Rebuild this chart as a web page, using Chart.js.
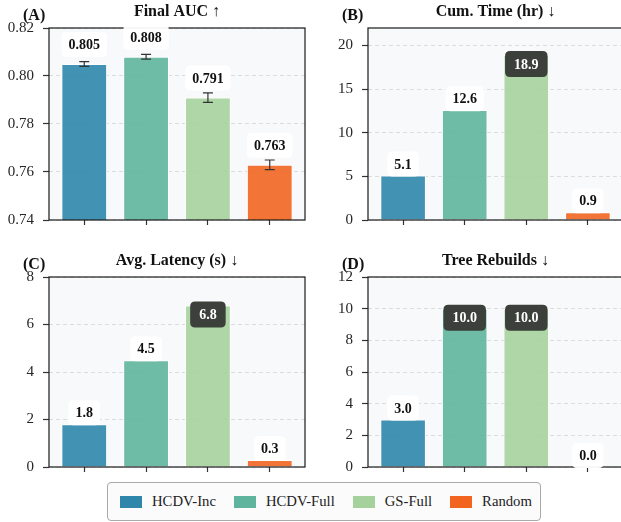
<!DOCTYPE html>
<html>
<head>
<meta charset="utf-8">
<script src="https://cdn.jsdelivr.net/npm/chart.js@4.4.1/dist/chart.umd.min.js"></script>
<style>
  html, body { margin: 0; padding: 0; background: #fff; }
  #fig { position: relative; width: 621px; height: 522px; overflow: hidden; background: #fff;
         font-family: 'Liberation Serif', 'Times New Roman', serif; }
  #fig canvas { position: absolute; }
  #legend { position: absolute; left: 107px; top: 482px; height: 39px; box-sizing: border-box;
            border: 1px solid #a9a9a9; border-radius: 4px; background: #fbfbfb;
            display: flex; align-items: center; padding: 0 8px 0 12px; font-size: 14.7px; color: #222; }
  .item { display: flex; align-items: center; margin-right: 18px; }
  .item:last-child { margin-right: 0; }
  .sw { width: 22px; height: 12px; margin-right: 10px; }
</style>
</head>
<body>
<div id="fig">
  <canvas id="pA" width="310" height="240" style="left:0;top:0"></canvas>
  <canvas id="pB" width="318" height="240" style="left:310px;top:0"></canvas>
  <canvas id="pC" width="310" height="230" style="left:0;top:250px"></canvas>
  <canvas id="pD" width="318" height="230" style="left:310px;top:250px"></canvas>
  <div id="legend"></div>
</div>
<script>
// Methods compared
const methods = ['HCDV-Inc', 'HCDV-Full', 'GS-Full', 'Random'];
const methodColors = ['#2E86AB', '#5EB49C', '#A5D29C', '#F16520'];

// Metric values per method
const finalAUC     = [0.805, 0.808, 0.791, 0.763];
const finalAUCErr  = [0.001, 0.001, 0.002, 0.002];
const cumTimeHr    = [5.1, 12.6, 18.9, 0.9];
const avgLatencyS  = [1.8, 4.5, 6.8, 0.3];
const treeRebuilds = [3.0, 10.0, 10.0, 0.0];

// Y-axis tick labels per panel
const aucTicks     = [0.74, 0.76, 0.78, 0.80, 0.82];
const timeTicks    = [0, 5, 10, 15, 20];
const latencyTicks = [0, 2, 4, 6, 8];
const rebuildTicks = [0, 2, 4, 6, 8, 10, 12];

const FONT = "'Liberation Serif', 'Times New Roman', serif";

function withAlpha(hex, a) {
  const n = parseInt(hex.slice(1), 16);
  return `rgba(${(n >> 16) & 255},${(n >> 8) & 255},${n & 255},${a})`;
}

function roundBox(ctx, x, y, w, h, r) {
  ctx.beginPath();
  ctx.moveTo(x + r, y);
  ctx.lineTo(x + w - r, y);
  ctx.quadraticCurveTo(x + w, y, x + w, y + r);
  ctx.lineTo(x + w, y + h - r);
  ctx.quadraticCurveTo(x + w, y + h, x + w - r, y + h);
  ctx.lineTo(x + r, y + h);
  ctx.quadraticCurveTo(x, y + h, x, y + h - r);
  ctx.lineTo(x, y + r);
  ctx.quadraticCurveTo(x, y, x + r, y);
  ctx.closePath();
}

// Panel background, frame, error bars, value badges, titles
const panelDecor = {
  id: 'panelDecor',
  beforeDraw(chart) {
    const { ctx, chartArea: a } = chart;
    ctx.save();
    ctx.fillStyle = '#f8f9fa';
    ctx.fillRect(a.left, a.top, a.right - a.left, a.bottom - a.top);
    ctx.restore();
  },
  afterDatasetsDraw(chart) {
    const o = chart.options.plugins.panelDecor;
    const { ctx, chartArea: a, scales: { x, y } } = chart;
    const pts = chart.data.datasets[0].data;
    ctx.save();

    if (o.errors) {
      ctx.strokeStyle = '#333';
      ctx.lineWidth = 1.2;
      pts.forEach((p, i) => {
        const px = x.getPixelForValue(p.x);
        const hi = y.getPixelForValue(p.y + o.errors[i]);
        const lo = y.getPixelForValue(p.y - o.errors[i]);
        ctx.beginPath();
        ctx.moveTo(px, hi); ctx.lineTo(px, lo);
        ctx.moveTo(px - 5, hi); ctx.lineTo(px + 5, hi);
        ctx.moveTo(px - 5, lo); ctx.lineTo(px + 5, lo);
        ctx.stroke();
      });
    }

    ctx.strokeStyle = '#1a1a1a';
    ctx.lineWidth = 1.2;
    ctx.strokeRect(a.left, a.top, a.right - a.left, a.bottom - a.top);

    ctx.font = `bold 14px ${FONT}`;
    ctx.textAlign = 'center';
    ctx.textBaseline = 'middle';
    pts.forEach((p) => {
      const px = x.getPixelForValue(p.x);
      const top = y.getPixelForValue(p.y);
      const dark = o.darkFrac != null && p.y >= o.darkFrac * y.max;
      const text = p.y.toFixed(o.decimals);
      const w = ctx.measureText(text).width + (dark ? 18 : 14);
      const h = dark ? 26 : 25;
      const cy = dark ? top + 9 : top - o.labelGap;
      roundBox(ctx, px - w / 2, cy - h / 2, w, h, 5);
      ctx.fillStyle = dark ? '#3c403b' : 'rgba(255,255,255,0.95)';
      ctx.fill();
      ctx.fillStyle = dark ? '#ffffff' : '#111111';
      ctx.fillText(text, px, cy + 1);
    });
    ctx.restore();
  },
  afterDraw(chart) {
    const o = chart.options.plugins.panelDecor;
    const { ctx, chartArea: a } = chart;
    ctx.save();
    ctx.fillStyle = '#111';
    ctx.font = `bold 16px ${FONT}`;
    ctx.textBaseline = 'middle';
    ctx.textAlign = 'center';
    ctx.fillText(o.title, (a.left + a.right) / 2, a.top - 16);
    ctx.textAlign = 'left';
    ctx.fillText(o.letter, a.left - 26, a.top - 12);
    ctx.restore();
  }
};

function makePanel(id, p) {
  return new Chart(document.getElementById(id), {
    type: 'bar',
    data: {
      datasets: [{
        data: p.values.map((v, i) => ({ x: i, y: v })),
        backgroundColor: methodColors.map(c => withAlpha(c, 0.9)),
        borderColor: '#ffffff',
        borderWidth: 1,
        barPercentage: 0.74,
        categoryPercentage: 1.0
      }]
    },
    options: {
      responsive: false,
      animation: false,
      devicePixelRatio: 1,
      layout: { padding: { left: 0, right: 5, top: p.padTop, bottom: 0 } },
      plugins: {
        legend: { display: false },
        tooltip: { enabled: false },
        panelDecor: {
          title: p.title, letter: p.letter, errors: p.errors || null,
          decimals: p.decimals, labelGap: p.labelGap, darkFrac: p.darkFrac
        }
      },
      scales: {
        x: {
          type: 'linear', min: -0.57, max: 3.57, offset: false,
          afterBuildTicks: s => { s.ticks = methods.map((_, i) => ({ value: i })); },
          afterFit: s => { s.height = p.xHeight; s.paddingLeft = 0; s.paddingRight = 0; },
          ticks: { callback: () => '', padding: 0 },
          grid: { drawOnChartArea: false, drawTicks: true, tickLength: 5, tickColor: '#333',
                  tickWidth: 1.2, offset: false },
          border: { display: false }
        },
        y: {
          min: p.min, max: p.max,
          afterBuildTicks: s => { s.ticks = p.ticks.map(v => ({ value: v })); },
          afterFit: s => { s.width = p.yWidth; s.paddingTop = 0; s.paddingBottom = 0; },
          ticks: {
            callback: v => Number(v).toFixed(p.tickDecimals),
            font: { family: FONT, size: 15 }, color: '#262626', padding: 9
          },
          grid: { color: 'rgba(0,0,0,0.14)', lineWidth: 0.8, tickLength: 6, tickColor: '#333',
                  tickWidth: 1.2, tickBorderDash: [] },
          border: { display: false, dash: [4, 3] }
        }
      }
    },
    plugins: [panelDecor]
  });
}

makePanel('pA', { values: finalAUC, errors: finalAUCErr, ticks: aucTicks, min: 0.74, max: 0.82,
  tickDecimals: 2, decimals: 3, labelGap: 19.5, darkFrac: null,
  title: 'Final AUC ↑', letter: '(A)', padTop: 28, yWidth: 49, xHeight: 20 });
makePanel('pB', { values: cumTimeHr, ticks: timeTicks, min: 0, max: 22,
  tickDecimals: 0, decimals: 1, labelGap: 11.4, darkFrac: 0.8,
  title: 'Cum. Time (hr) ↓', letter: '(B)', padTop: 28, yWidth: 58, xHeight: 20 });
makePanel('pC', { values: avgLatencyS, ticks: latencyTicks, min: 0, max: 8,
  tickDecimals: 0, decimals: 1, labelGap: 11.4, darkFrac: 0.8,
  title: 'Avg. Latency (s) ↓', letter: '(C)', padTop: 27, yWidth: 49, xHeight: 13 });
makePanel('pD', { values: treeRebuilds, ticks: rebuildTicks, min: 0, max: 12,
  tickDecimals: 0, decimals: 1, labelGap: 11.4, darkFrac: 0.8,
  title: 'Tree Rebuilds ↓', letter: '(D)', padTop: 27, yWidth: 58, xHeight: 13 });

// Shared legend
const legend = document.getElementById('legend');
methods.forEach((m, i) => {
  const item = document.createElement('div');
  item.className = 'item';
  const sw = document.createElement('span');
  sw.className = 'sw';
  sw.style.background = methodColors[i];
  const label = document.createElement('span');
  label.textContent = m;
  item.appendChild(sw);
  item.appendChild(label);
  legend.appendChild(item);
});
</script>
</body>
</html>
